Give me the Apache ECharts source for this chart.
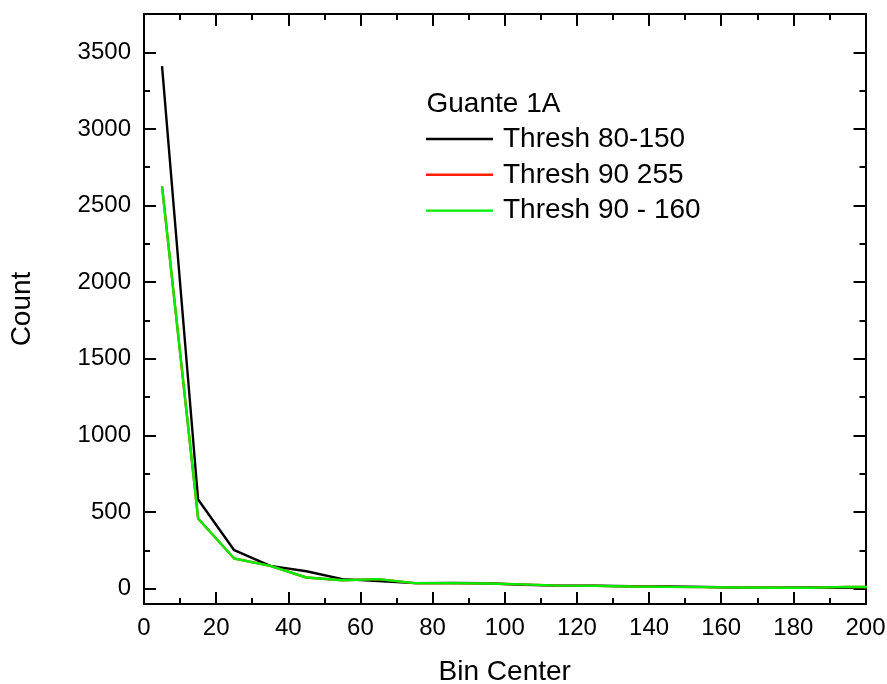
<!DOCTYPE html>
<html>
<head>
<meta charset="utf-8">
<script src="https://cdn.jsdelivr.net/npm/echarts@6/dist/echarts.min.js"></script>
<style>html,body{margin:0;padding:0;background:#fff}#c{width:887px;height:684px}</style>
</head>
<body>
<div id="c"></div>
<script>
const binCenters = [5, 15, 25, 35, 45, 55, 65, 75, 85, 95, 105, 115, 125, 135, 145, 155, 165, 175, 185, 195, 205];
const thresh80_150 = [3410, 582, 251, 149, 114, 62, 49, 36, 38, 35, 25, 20, 20, 16, 14, 12, 8, 6, 8, 5, 5];
const thresh90_255 = [2625, 458, 197, 149, 73, 55, 62, 36, 36, 34, 28, 20, 18, 14, 12, 10, 8, 6, 6, 12, 10];
const thresh90_160 = [2625, 458, 197, 149, 73, 55, 62, 36, 36, 34, 28, 20, 18, 14, 12, 10, 8, 6, 6, 12, 10];
const yMajorTicks = [0, 500, 1000, 1500, 2000, 2500, 3000, 3500];
const yMinorTicks = [250, 750, 1250, 1750, 2250, 2750, 3250];
const seriesNames = ['Thresh 80-150', 'Thresh 90 255', 'Thresh 90 - 160'];
const legendTitle = 'Guante 1A';

const FONT = 'Liberation Sans, Arial, sans-serif';
const pair = (xs, ys) => xs.map((x, i) => [x, ys[i]]);
const axisLine = { show: true, onZero: false, lineStyle: { color: '#000', width: 2 } };

const chart = echarts.init(document.getElementById('c'));
const yBase = { type: 'value', min: -100, max: 3750, splitLine: { show: false }, axisLine: axisLine };
chart.setOption({
  animation: false,
  backgroundColor: '#fff',
  grid: { left: 144, right: 21.5, top: 14, bottom: 80, containLabel: false, outerBoundsMode: 'none' },
  graphic: [{
    type: 'text', left: 426.5, top: 90,
    style: { text: legendTitle, font: '28px ' + FONT, fill: '#000' }
  }],
  legend: {
    orient: 'vertical', left: 426, top: 124, padding: 0,
    icon: 'rect', itemWidth: 67, itemHeight: 2.4, itemGap: 5.8,
    textStyle: { fontSize: 28, fontFamily: FONT, color: '#000', lineHeight: 30, padding: [0, 0, 0, 5] },
    data: seriesNames
  },
  xAxis: [{
    type: 'value', min: 0, max: 200, interval: 20, position: 'bottom',
    name: 'Bin Center', nameLocation: 'middle', nameGap: 54,
    nameTextStyle: { fontSize: 28, fontFamily: FONT, color: '#000' },
    axisLine: axisLine,
    axisTick: { show: true, inside: true, length: 12, lineStyle: { color: '#000', width: 2 } },
    minorTick: { show: true, splitNumber: 2, length: 6, lineStyle: { color: '#000', width: 2 } },
    axisLabel: { fontSize: 24, fontFamily: FONT, color: '#000', margin: 12 },
    splitLine: { show: false }, minorSplitLine: { show: false }
  }, {
    type: 'value', min: 0, max: 200, interval: 20, position: 'top',
    axisLine: axisLine,
    axisTick: { show: true, inside: true, length: 12, lineStyle: { color: '#000', width: 2 } },
    minorTick: { show: true, splitNumber: 2, length: 6, lineStyle: { color: '#000', width: 2 } },
    axisLabel: { show: false }, splitLine: { show: false }
  }],
  yAxis: [Object.assign({}, yBase, {
    position: 'left',
    name: 'Count', nameLocation: 'middle', nameGap: 108,
    nameTextStyle: { fontSize: 28, fontFamily: FONT, color: '#000' },
    axisTick: { show: true, inside: true, length: 12, customValues: yMajorTicks, lineStyle: { color: '#000', width: 2 } },
    axisLabel: { fontSize: 24, fontFamily: FONT, color: '#000', margin: 13, customValues: yMajorTicks,
      formatter: v => String(v) }
  }), Object.assign({}, yBase, {
    position: 'left',
    axisTick: { show: true, inside: true, length: 6, customValues: yMinorTicks, lineStyle: { color: '#000', width: 2 } },
    axisLabel: { show: false, customValues: yMinorTicks }
  }), Object.assign({}, yBase, {
    position: 'right',
    axisTick: { show: true, inside: true, length: 12, customValues: yMajorTicks, lineStyle: { color: '#000', width: 2 } },
    axisLabel: { show: false, customValues: yMajorTicks }
  }), Object.assign({}, yBase, {
    position: 'right',
    axisTick: { show: true, inside: true, length: 6, customValues: yMinorTicks, lineStyle: { color: '#000', width: 2 } },
    axisLabel: { show: false, customValues: yMinorTicks }
  })],
  series: [
    { name: seriesNames[0], type: 'line', data: pair(binCenters, thresh80_150), symbol: 'none', clip: true,
      color: '#000', lineStyle: { color: '#000', width: 2.4 } },
    { name: seriesNames[1], type: 'line', data: pair(binCenters, thresh90_255), symbol: 'none', clip: true,
      color: '#ff2000', lineStyle: { color: '#ff2000', width: 2.4 } },
    { name: seriesNames[2], type: 'line', data: pair(binCenters, thresh90_160), symbol: 'none', clip: true,
      color: '#00ee00', lineStyle: { color: '#00ee00', width: 2.4 } }
  ]
});
</script>
</body>
</html>
